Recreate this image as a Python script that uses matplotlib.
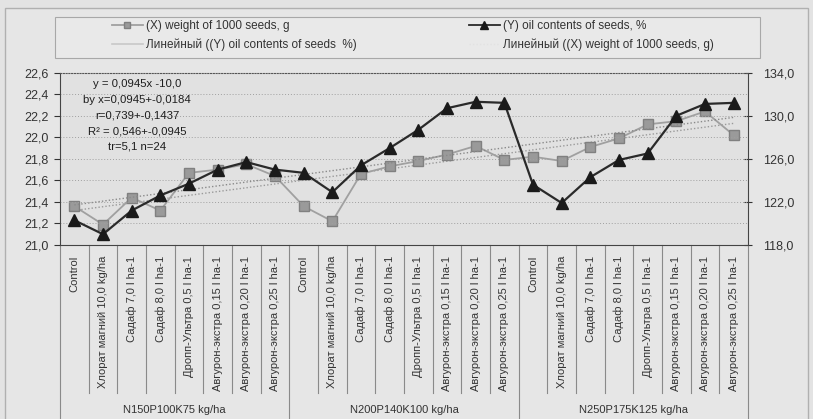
import numpy as np
import matplotlib
matplotlib.use("Agg")
import matplotlib.pyplot as plt
from matplotlib.lines import Line2D
from matplotlib.patches import Rectangle
from matplotlib.ticker import FuncFormatter, FixedLocator
import matplotlib.transforms as mtransforms

plt.rcParams['font.family'] = ['Liberation Sans', 'DejaVu Sans']

# ---------------- data ----------------
treatments = ["Control", "Хлорат магний 10,0 kg/ha", "Садаф 7,0 l ha-1", "Садаф 8,0 l ha-1",
              "Дропп-Ультра 0,5 l ha-1", "Авгурон-экстра 0,15 l ha-1",
              "Авгурон-экстра 0,20 l ha-1", "Авгурон-экстра 0,25 l ha-1"]
groups = ["N150P100K75 kg/ha", "N200P140K100 kg/ha", "N250P175K125 kg/ha"]
categories = treatments * len(groups)

oil_content = [21.23, 21.10, 21.32, 21.46, 21.57, 21.70, 21.77, 21.70,
               21.67, 21.49, 21.74, 21.90, 22.07, 22.27, 22.33, 22.32,
               21.56, 21.39, 21.63, 21.79, 21.85, 22.20, 22.31, 22.32]
seed_weight = [121.6, 119.9, 122.4, 121.2, 124.7, 125.0, 125.5, 124.4,
               121.6, 120.2, 124.6, 125.3, 125.8, 126.4, 127.2, 125.9,
               126.2, 125.8, 127.1, 127.9, 129.2, 129.5, 130.4, 128.2]

left_ticks = [21.0, 21.2, 21.4, 21.6, 21.8, 22.0, 22.2, 22.4, 22.6]
right_ticks = [118.0, 122.0, 126.0, 130.0, 134.0]

stats_text = ["y = 0,0945x -10,0", "by x=0,0945+-0,0184", "r=0,739+-0,1437",
              "R² = 0,546+-0,0945", "tr=5,1 n=24"]

lbl_x = "(X) weight of 1000 seeds, g"
lbl_y = "(Y) oil contents of seeds, %"
lbl_lin_y = "Линейный ((Y) oil contents of seeds  %)"
lbl_lin_x = "Линейный ((X) weight of 1000 seeds, g)"

# ---------------- figure ----------------
W, H = 813, 419
fig = plt.figure(figsize=(W / 100, H / 100), dpi=100)
fig.patch.set_facecolor('#e3e3e3')

# outer chart frame (scan)
fig.patches.append(Rectangle((5 / W, -0.05), 803 / W, 1.05 - 8 / H, transform=fig.transFigure,
                             facecolor='#e6e6e6', edgecolor='#b0b0b0', lw=1.0, zorder=-5))
# legend frame
fig.patches.append(Rectangle((55 / W, 1 - 58 / H), 705 / W, 41 / H, transform=fig.transFigure,
                             facecolor='#e9e9e9', edgecolor='#a8a8a8', lw=0.8, zorder=-4))

x = np.arange(1, len(categories) + 1)
ax = fig.add_axes([60 / W, 1 - 245 / H, (748 - 60) / W, (245 - 72.7) / H])
ax2 = ax.twinx()
ax.set_zorder(2)
ax2.set_zorder(1)
ax.patch.set_visible(False)
ax2.patch.set_visible(True)
ax2.patch.set_facecolor('#e1e1e1')

# trend lines
cy = np.polyfit(x, oil_content, 1)
cx = np.polyfit(x, seed_weight, 1)
ax.plot(x, np.polyval(cy, x), ls=(0, (1, 1.5)), color='#8a8a8a', lw=1.0, zorder=2)
ax2.plot(x, np.polyval(cx, x), ls=(0, (1, 1.5)), color='#9a9a9a', lw=1.0, zorder=2)

# series
ax2.plot(x, seed_weight, color='#a0a0a0', lw=1.3, marker='s', ms=6.5,
         mfc='#9a9a9a', mec='#808080', zorder=3)
ax.plot(x, oil_content, color='#2a2a2a', lw=1.6, marker='^', ms=8,
        mfc='#1a1a1a', mec='#1a1a1a', zorder=4)

ax.set_xlim(0.5, len(categories) + 0.5)
ax.set_ylim(21.0, 22.6)
ax2.set_ylim(118.0, 134.0)
ax.yaxis.set_major_locator(FixedLocator(left_ticks))
ax2.yaxis.set_major_locator(FixedLocator(right_ticks))
fmt = FuncFormatter(lambda v, p: f"{v:.1f}".replace('.', ','))
ax.yaxis.set_major_formatter(fmt)
ax2.yaxis.set_major_formatter(fmt)

for a in (ax, ax2):
    a.tick_params(axis='y', labelsize=9, colors='#333333', length=4, width=0.8)
    for s in a.spines.values():
        s.set_visible(False)
ax2.tick_params(axis='y', direction='inout', length=6, pad=8)
ax.tick_params(axis='y', direction='out', pad=4)

ax.spines['left'].set_visible(True)
ax.spines['left'].set_color('#444444')
ax.spines['bottom'].set_visible(True)
ax.spines['bottom'].set_color('#444444')
ax2.spines['right'].set_visible(True)
ax2.spines['right'].set_color('#444444')
ax.spines['top'].set_visible(True)
ax.spines['top'].set_linestyle((0, (1, 1.5)))
ax.spines['top'].set_color('#555555')

# horizontal grid
for t in left_ticks[1:-1]:
    ax.axhline(t, color='#a0a0a0', lw=0.7, ls=(0, (1, 2)), zorder=1)

# category tick labels
ax.set_xticks(x)
ax.set_xticklabels(categories, rotation=90, fontsize=8, color='#333333', va='top', ha='center')
ax.tick_params(axis='x', length=0, pad=8)

trans = mtransforms.blended_transform_factory(ax.transData, ax.transAxes)
bounds = np.arange(0.5, len(categories) + 1, 1.0)
for b in bounds:
    is_group = abs(((b - 0.5) / len(treatments)) - round((b - 0.5) / len(treatments))) < 1e-9
    y_end = -1.1 if is_group else -0.86
    ax.plot([b, b], [0, y_end], transform=trans, color='#8a8a8a', lw=0.8, clip_on=False, zorder=1)

for gi, g in enumerate(groups):
    cxg = gi * len(treatments) + (len(treatments) + 1) / 2
    ax.text(cxg, -0.958, g, transform=trans, ha='center', va='center', fontsize=8, color='#333333')

# stats text (pixel positions measured from top)
for i, s in enumerate(stats_text):
    ax.text(137 / W, 1 - (84 + i * 15.7) / H, s, transform=fig.transFigure, fontsize=8.2,
            color='#1e1e1e', ha='center', va='center')

# legend
h_x = Line2D([], [], color='#a0a0a0', lw=1.3, marker='s', ms=5, mfc='#9a9a9a', mec='#808080')
h_y = Line2D([], [], color='#2a2a2a', lw=1.3, marker='^', ms=6, mfc='#1a1a1a', mec='#1a1a1a')
h_ly = Line2D([], [], color='#c8c8c8', lw=1.2)
h_lx = Line2D([], [], color='#e2e2e2', lw=1.0, ls=(0, (1, 1.5)))
leg = fig.legend([h_x, h_ly, h_y, h_lx], [lbl_x, lbl_lin_y, lbl_y, lbl_lin_x],
                 loc='upper left', bbox_to_anchor=(112 / W, 1 - 20.5 / H), ncol=2,
                 frameon=False, fontsize=8.5, handlelength=2.6, handletextpad=0.3,
                 columnspacing=9.5, labelspacing=0.55, borderaxespad=0, borderpad=0)
for t in leg.get_texts():
    t.set_color('#333333')

fig.savefig("out.png", dpi=100, facecolor=fig.get_facecolor())
